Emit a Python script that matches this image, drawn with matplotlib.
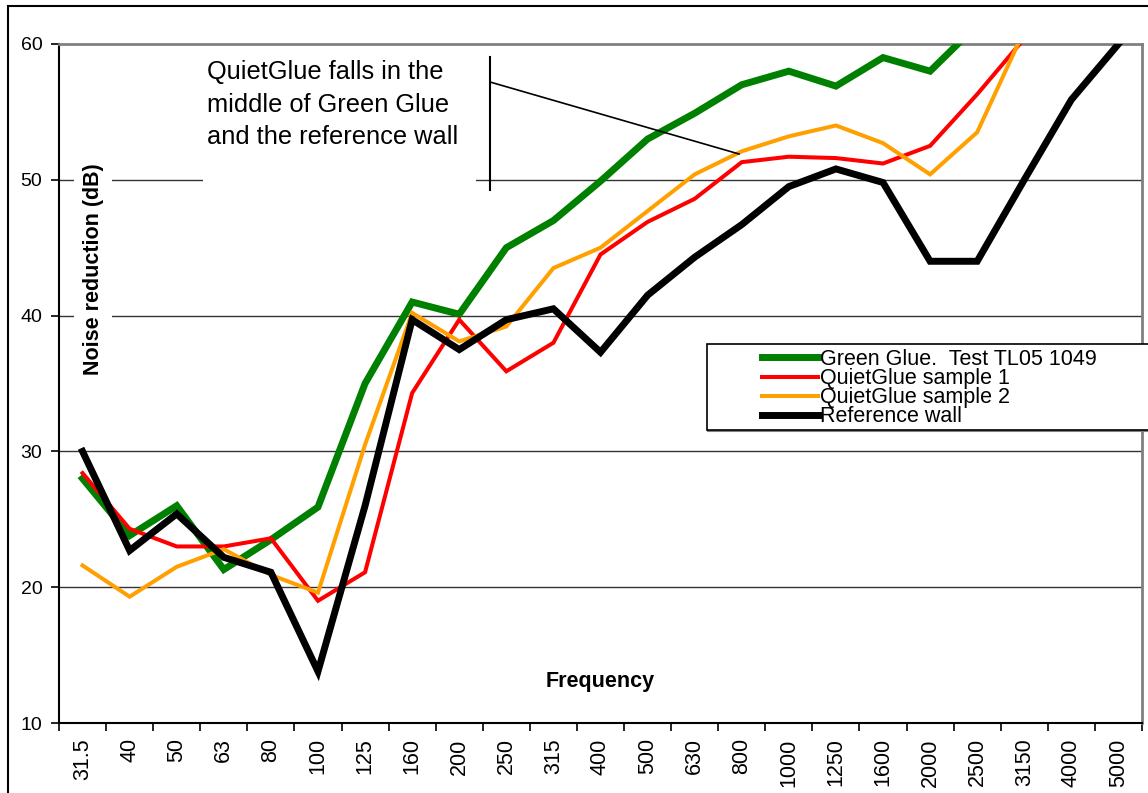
import matplotlib
matplotlib.use("Agg")
import matplotlib.pyplot as plt
from matplotlib.patches import Rectangle
from matplotlib.lines import Line2D

plt.rcParams['font.family'] = ['Liberation Sans', 'DejaVu Sans']

freqs = ["31.5", "40", "50", "63", "80", "100", "125", "160", "200", "250", "315",
         "400", "500", "630", "800", "1000", "1250", "1600", "2000", "2500", "3150",
         "4000", "5000"]
green_glue = [28.0, 23.8, 26.0, 21.3, 23.5, 25.9, 35.0, 41.0, 40.1, 45.0, 47.0,
              49.9, 53.0, 54.9, 57.0, 58.0, 56.9, 59.0, 58.0, 61.4, 63.0, 64.0, 66.0]
quiet_1 = [28.4, 24.3, 23.0, 23.0, 23.6, 19.0, 21.1, 34.3, 39.7, 35.9, 38.0,
           44.5, 46.9, 48.6, 51.3, 51.7, 51.6, 51.2, 52.5, 56.3, 60.4, 64.0, 66.0]
quiet_2 = [21.6, 19.3, 21.5, 22.8, 20.9, 19.6, 30.5, 40.2, 38.1, 39.2, 43.5,
           45.0, 47.7, 50.4, 52.1, 53.2, 54.0, 52.7, 50.4, 53.5, 61.0, 66.0, 68.0]
reference = [30.0, 22.7, 25.4, 22.2, 21.1, 13.8, 26.0, 39.7, 37.5, 39.7, 40.5,
             37.3, 41.5, 44.3, 46.7, 49.5, 50.8, 49.8, 44.0, 44.0, 50.0, 55.9, 60.0]

series_labels = ["Green Glue.  Test TL05 1049", "QuietGlue sample 1",
                 "QuietGlue sample 2", "Reference wall"]
yticks = [10, 20, 30, 40, 50, 60]

W, H = 1148, 793
fig = plt.figure(figsize=(W / 100, H / 100), dpi=100)


def fx(x):
    return x / W


def fy(y):
    return 1 - y / H


ax = fig.add_axes([fx(59), fy(723), (1142 - 59) / W, (723 - 44) / H])
x = list(range(len(freqs)))
styles = [("#008000", 5.0), ("#FF0000", 2.9), ("#FFA000", 2.9), ("#000000", 5.0)]
handles = []
for vals, (c, lw), lab in zip([green_glue, quiet_1, quiet_2, reference], styles, series_labels):
    h, = ax.plot(x, vals, color=c, lw=lw, label=lab, solid_joinstyle='miter', zorder=3)
    handles.append(h)

ax.set_xlim(-0.5, len(freqs) - 0.5)
ax.set_ylim(10, 60)
ax.set_yticks(yticks)
ax.tick_params(axis='y', labelsize=14, length=6, width=1.2, direction='out', pad=6)
ax.set_xticks(x)
ax.set_xticklabels(freqs, rotation=90)
ax.set_xticks([i - 0.5 for i in range(len(freqs) + 1)], minor=True)
ax.tick_params(axis='x', which='major', length=0, labelsize=15.5, pad=11)
ax.tick_params(axis='x', which='minor', length=6, width=1.2, direction='out')
for v in yticks[1:-1]:
    ax.axhline(v, color='#333333', lw=1.0, zorder=1)
for s in ['left', 'bottom']:
    ax.spines[s].set_color('black')
    ax.spines[s].set_linewidth(1.5)
for s in ['top', 'right']:
    ax.spines[s].set_color('#808080')
    ax.spines[s].set_linewidth(2)

ax.text(0.5, (682 - 723) / (44 - 723), "Frequency", transform=ax.transAxes,
        ha='center', va='center', fontsize=15.5, fontweight='bold')

fig.text(fx(93), fy(269), "Noise reduction (dB)", rotation=90, ha='center', va='center',
         fontsize=15.5, fontweight='bold',
         bbox=dict(facecolor='white', edgecolor='none', pad=6), zorder=4)

# annotation box
fig.patches.append(Rectangle((fx(203), fy(186)), fx(476) - fx(203), fy(55) - fy(186),
                             transform=fig.transFigure, facecolor='white',
                             edgecolor='none', zorder=2))
fig.text(fx(207), fy(60), "QuietGlue falls in the\nmiddle of Green Glue\nand the reference wall",
         ha='left', va='top', fontsize=18.3, linespacing=1.45, zorder=4)
fig.lines.append(Line2D([fx(490), fx(490)], [fy(57), fy(190)], transform=fig.transFigure,
                        color='black', lw=1.5, zorder=4))
fig.lines.append(Line2D([fx(490), fx(739)], [fy(82), fy(154)], transform=fig.transFigure,
                        color='black', lw=1.2, zorder=4))

# legend
fig.patches.append(Rectangle((fx(707), fy(430)), fx(1170) - fx(707), fy(344) - fy(430),
                             transform=fig.transFigure, facecolor='white',
                             edgecolor='black', lw=1.2, zorder=3))
fig.lines.append(Line2D([fx(708), fx(1170)], [fy(431), fy(431)], transform=fig.transFigure,
                        color='#808080', lw=1.5, zorder=3))
fig.legend(handles=handles, loc='upper left', bbox_to_anchor=(fx(762), fy(349)),
           frameon=False, fontsize=15.5, handlelength=2.6, handletextpad=0.1,
           labelspacing=-0.09, borderpad=0, borderaxespad=0).set_zorder(5)

# outer border
fig.patches.append(Rectangle((fx(8), fy(800)), fx(1170) - fx(8), fy(6) - fy(800),
                             transform=fig.transFigure, facecolor='none',
                             edgecolor='black', lw=1.5, zorder=6))

fig.savefig("out.png", dpi=100)
